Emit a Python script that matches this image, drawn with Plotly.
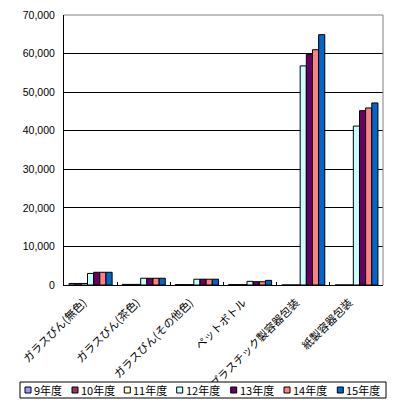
import plotly.graph_objects as go

categories = ["ガラスびん(無色)", "ガラスびん(茶色)", "ガラスびん(その他色)",
              "ペットボトル", "プラスチック製容器包装", "紙製容器包装"]
series_names = ["9年度", "10年度", "11年度", "12年度", "13年度", "14年度", "15年度"]
colors = ["#9999FF", "#993366", "#FFFFCC", "#CCFFFF", "#660066", "#FF8080", "#0066CC"]

v9 = [400, 150, 100, 100, 0, 0]
v10 = [400, 150, 100, 100, 0, 0]
v11 = [400, 150, 100, 100, 0, 0]
v12 = [3000, 1750, 1500, 950, 56800, 41200]
v13 = [3300, 1750, 1500, 850, 59800, 45200]
v14 = [3300, 1750, 1500, 850, 61000, 45900]
v15 = [3300, 1750, 1500, 1200, 64900, 47200]
values = [v9, v10, v11, v12, v13, v14, v15]

W, H = 405, 403
L, R, T, B = 64, 383, 15, 285

fig = go.Figure()
for name, col, vals in zip(series_names, colors, values):
    fig.add_trace(go.Bar(x=categories, y=vals, name=name,
                         marker=dict(color=col, line=dict(color="black", width=1)),
                         showlegend=False))

def px_x(p):
    return (p - L) / (R - L)

def px_y(p):
    return (B - p) / (B - T)

shapes = []
annotations = []
# gray top & right border
shapes.append(dict(type="line", xref="paper", yref="paper", x0=0, x1=1, y0=1, y1=1,
                   line=dict(color="#808080", width=1), layer="above"))
shapes.append(dict(type="line", xref="paper", yref="paper", x0=1, x1=1, y0=0, y1=1,
                   line=dict(color="#808080", width=1), layer="above"))
# legend box
shapes.append(dict(type="rect", xref="paper", yref="paper",
                   x0=px_x(20), x1=px_x(386), y0=px_y(398), y1=px_y(382),
                   line=dict(color="black", width=1), fillcolor="white"))
sq_left = [25, 72, 124.3, 176.7, 230.7, 284, 337.3]
cy = 390
for xl, name, col in zip(sq_left, series_names, colors):
    shapes.append(dict(type="rect", xref="paper", yref="paper",
                       x0=px_x(xl), x1=px_x(xl + 6), y0=px_y(cy + 3), y1=px_y(cy - 3),
                       line=dict(color="black", width=1), fillcolor=col))
    annotations.append(dict(text=name, xref="paper", yref="paper",
                            x=px_x(xl + 7), y=px_y(cy), xanchor="left", yanchor="middle",
                            showarrow=False,
                            font=dict(family="Noto Sans CJK JP", size=11, color="black")))

fig.update_layout(
    width=W, height=H,
    margin=dict(l=L, r=W - R, t=T, b=H - B, autoexpand=False),
    paper_bgcolor="white", plot_bgcolor="white",
    barmode="group", bargap=0.19, bargroupgap=0,
    shapes=shapes, annotations=annotations,
    xaxis=dict(showline=True, linecolor="black", linewidth=1, automargin=False,
               ticks="inside", tickson="boundaries", ticklen=3, tickcolor="black",
               tickangle=-45, ticklabelshift=-7, ticklabelstandoff=6,
               tickfont=dict(family="Noto Sans CJK JP", size=11, color="black"),
               showgrid=False),
    yaxis=dict(range=[0, 70000], dtick=10000, tickformat=",", automargin=False,
               showline=True, linecolor="black", linewidth=1,
               showgrid=True, gridcolor="black", gridwidth=1,
               zeroline=False, ticks="", ticklabelstandoff=6,
               tickfont=dict(family="Liberation Sans", size=10.5, color="black")),
)

fig.write_html("out.html", config={"displayModeBar": False},
               post_script="document.body.style.margin='0';document.body.style.padding='0';")
